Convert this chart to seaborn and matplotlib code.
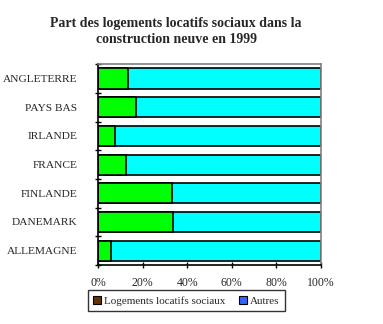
import matplotlib
matplotlib.use("Agg")
import matplotlib.pyplot as plt
import seaborn as sns
import pandas as pd
from matplotlib.patches import Patch
from matplotlib.ticker import FixedLocator

categories = ["ANGLETERRE", "PAYS BAS", "IRLANDE", "FRANCE", "FINLANDE", "DANEMARK", "ALLEMAGNE"]
social = [13.4, 16.9, 7.5, 12.4, 33.0, 33.6, 5.7]
autres = [100 - v for v in social]
xticks = [0, 20, 40, 60, 80, 100]
xticklabels = ["0%", "20%", "40%", "60%", "80%", "100%"]
title = "Part des logements locatifs sociaux dans la\nconstruction neuve en 1999"
legend_labels = ["Logements locatifs sociaux", "Autres"]

df = pd.DataFrame({"pays": categories, "social": social, "autres": autres})
df["total"] = df["social"] + df["autres"]

sns.set_style("white")
plt.rcParams["font.family"] = ["Liberation Serif", "DejaVu Serif"]

fig = plt.figure(figsize=(3.83, 3.24), dpi=100)
ax = fig.add_axes([0.256, 0.182, 0.582, 0.620])

sns.barplot(data=df, y="pays", x="total", color="#00FFFF", edgecolor="black",
            linewidth=1.2, width=0.7, saturation=1, ax=ax, orient="h")
sns.barplot(data=df, y="pays", x="social", color="#00FF00", edgecolor="black",
            linewidth=1.2, width=0.7, saturation=1, ax=ax, orient="h")

ax.set_xlim(0, 100)
ax.set_ylim(len(categories) - 0.5, -0.5)
ax.set_xlabel("")
ax.set_ylabel("")
ax.set_xticks(xticks)
ax.set_xticklabels(xticklabels, fontsize=8.5)
ax.set_yticks(range(len(categories)))
ax.set_yticklabels(categories, fontsize=8.2)
for lbl in ax.get_yticklabels():
    lbl.set_va("center_baseline")
ax.yaxis.set_minor_locator(FixedLocator([i - 0.5 for i in range(len(categories) + 1)]))
ax.tick_params(axis="y", which="major", length=0, pad=15)
ax.tick_params(axis="y", which="minor", length=5, direction="inout", width=1, color="black", left=True)
ax.tick_params(axis="x", which="major", length=5, direction="inout", width=1, color="black", bottom=True, pad=6)

for s in ["left", "bottom"]:
    ax.spines[s].set_color("black")
    ax.spines[s].set_linewidth(1.2)
for s in ["top", "right"]:
    ax.spines[s].set_color("#808080")
    ax.spines[s].set_linewidth(1.2)

fig.text(0.46, 0.948, title, ha="center", va="top", fontsize=10, fontweight="bold",
         linespacing=1.35)

handles = [Patch(facecolor="#663300", edgecolor="black", linewidth=0.8),
           Patch(facecolor="#3366FF", edgecolor="black", linewidth=0.8)]
leg = fig.legend(handles, legend_labels, loc="center", bbox_to_anchor=(0.487, 0.072),
                 ncol=2, fontsize=8, frameon=True, fancybox=False, borderpad=0.5,
                 handlelength=0.7, handleheight=0.7, handletextpad=0.3, columnspacing=1.2)
leg.get_frame().set_edgecolor("black")
leg.get_frame().set_linewidth(1.0)

fig.savefig("out.png", dpi=100)
